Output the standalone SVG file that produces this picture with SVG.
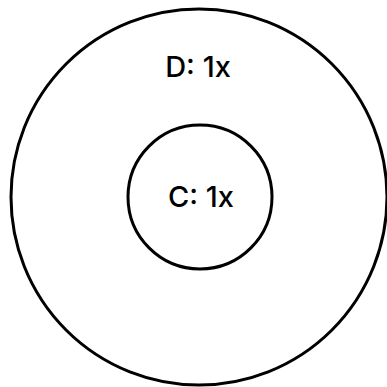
<svg xmlns="http://www.w3.org/2000/svg" width="387" height="387" viewBox="0 0 387 387">
<style>
.ring{fill:none;stroke:#000;stroke-width:3}
.lbl{font-family:Inter,"Open Sans","Liberation Sans",sans-serif;font-size:29px;font-weight:500;fill:#000;text-anchor:middle}
</style>
<rect width="387" height="387" fill="#fff"/>
<g id="D">
<circle class="ring" cx="199" cy="197" r="188"/>
<text class="lbl" x="198" y="77">D: 1x</text>
</g>
<g id="C">
<circle class="ring" cx="200" cy="197" r="72"/>
<text class="lbl" x="201" y="207">C: 1x</text>
</g>
<g id="connectors"></g>
</svg>
